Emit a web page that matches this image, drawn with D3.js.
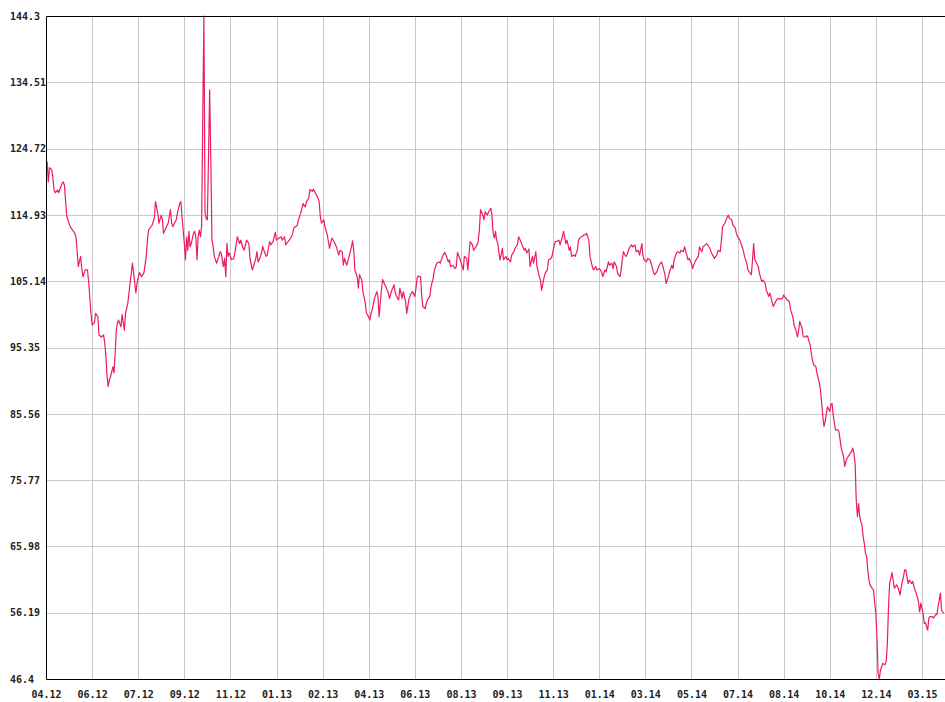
<!DOCTYPE html>
<html>
<head>
<meta charset="UTF-8">
<style>
  body { margin: 0; background: #fff; }
  .tick text { font-family: "DejaVu Sans Mono", monospace; font-size: 10px; font-weight: bold; fill: #222; }
  .grid line { stroke: #c8c8c8; stroke-width: 1; }
</style>
</head>
<body>
<script src="https://cdnjs.cloudflare.com/ajax/libs/d3/7.8.5/d3.min.js"></script>
<script>
// trading-session index (40 sessions per axis label) and price
var days = [1,2,3,5,6,7,8,10,11,14,15,16,18,21,23,25,26,27,28,30,31,32,34,36,37,39,40,42,43,45,46,48,50,51,52,53,54,55,56,58,59,60,61,62,63,65,66,68,69,71,72,73,75,76,78,79,81,83,85,87,88,89,92,94,95,97,98,100,101,102,104,106,108,109,110,113,114,116,117,118,120,121,122,123,124,125,126,128,129,130,131,132,133,134,135,136,137,138,139,140,141,142,143,144,145,146,148,150,151,152,154,155,156,157,158,159,161,163,165,166,168,169,171,172,174,176,177,179,180,182,183,184,185,187,188,189,191,192,194,195,197,199,200,202,204,205,207,208,210,211,213,214,215,218,219,221,223,225,226,228,229,231,232,234,236,237,238,239,241,242,244,245,246,248,250,252,254,255,257,258,259,261,263,265,266,267,268,270,271,272,274,275,277,278,279,281,282,283,285,287,288,289,291,292,294,295,297,298,300,302,303,305,306,307,309,310,312,313,315,317,318,320,321,322,323,325,326,327,329,330,331,333,334,336,337,339,341,342,344,346,347,349,350,351,353,355,356,357,359,360,362,363,365,366,367,368,370,371,373,374,375,376,377,379,380,381,383,384,386,387,388,389,390,391,392,393,394,396,397,399,400,401,403,404,406,407,409,410,412,413,415,416,417,419,420,422,423,425,426,428,429,430,432,433,435,436,438,439,441,442,443,445,446,448,449,451,452,454,455,456,458,459,461,462,464,465,467,468,469,471,472,474,475,477,478,480,481,482,483,485,486,488,489,491,492,493,495,496,498,499,500,501,503,504,506,508,509,511,512,514,515,517,518,519,521,522,524,525,527,528,530,531,532,534,535,537,538,540,541,543,544,545,547,548,550,551,553,554,556,557,558,560,561,563,564,566,567,569,570,572,573,574,576,577,579,580,582,583,585,586,587,589,590,592,593,595,596,598,599,600,602,603,605,606,608,609,611,612,613,614,615,616,618,619,621,622,624,625,627,628,630,631,633,634,635,637,639,640,642,643,645,646,648,649,651,652,653,654,656,657,659,660,661,663,664,665,666,668,669,671,672,673,674,675,676,677,678,680,681,682,683,684,685,687,688,689,690,692,693,694,695,697,699,700,701,702,703,704,705,706,707,708,709,710,711,712,713,714,715,716,718,719,720,721,722,723,724,725,726,728,729,730,731,732,733,734,735,736,738,739,740,741,742,744,745,746,748,749,751,752,754,755,757,758,759,761,762,763,765,766,767,769,770,772,773,774,776,777,778,779];
var prices = [122.8,119.8,121.9,121.6,120.4,118.6,118.2,118.6,118.2,119.6,119.8,119.3,114.7,113.2,112.7,112.2,111.7,109.7,107.3,108.8,107.1,105.8,106.8,106.8,105.1,100.4,98.7,99.0,100.4,99.9,97.2,96.9,97.2,96.0,94.0,91.0,89.6,90.6,91.0,92.5,91.6,94.5,97.9,99.0,99.4,98.4,100.2,97.9,100.4,101.9,103.4,104.9,107.8,106.4,103.4,104.9,106.4,105.8,106.4,108.8,111.2,112.7,113.4,114.5,116.9,115.2,113.7,114.9,114.2,112.2,113.0,113.7,115.7,113.7,113.2,114.2,115.2,116.6,116.9,114.7,110.7,108.3,111.7,109.7,112.5,110.2,110.7,112.2,112.5,111.7,108.3,111.7,112.7,111.7,113.2,129.4,144.3,115.2,114.4,114.2,123.5,133.4,123.0,111.2,110.2,108.8,107.8,108.8,109.5,109.3,107.3,108.5,105.8,110.7,108.8,109.3,108.3,108.5,110.5,111.7,110.7,111.2,110.0,109.7,111.2,110.7,108.5,106.8,107.3,108.5,109.5,108.0,108.3,109.3,110.3,109.7,108.8,109.0,111.0,110.5,111.0,112.4,111.2,111.5,111.7,111.2,111.7,110.5,111.0,111.2,111.7,112.2,113.0,113.4,114.2,115.2,116.6,116.1,116.9,117.4,118.7,118.4,118.7,118.1,117.4,116.9,114.7,113.7,114.2,113.2,112.0,111.0,110.0,111.5,111.0,110.2,109.0,109.7,109.5,107.5,108.5,107.5,108.8,110.2,111.1,109.7,106.8,105.8,104.1,106.1,105.3,103.6,101.9,100.4,100.2,99.4,100.4,100.9,102.6,103.6,102.9,99.9,103.8,105.4,104.6,104.3,103.4,102.6,103.8,104.6,103.4,102.6,102.4,104.1,102.6,103.6,102.1,100.4,102.6,103.4,103.6,102.9,104.1,105.6,105.9,105.8,102.9,101.4,101.1,101.9,102.4,102.9,104.3,105.6,106.8,107.8,108.0,107.8,108.8,109.4,109.0,108.0,108.3,107.3,107.5,107.0,107.3,109.4,108.5,108.0,106.8,108.8,108.5,106.8,109.0,111.0,110.5,109.7,110.2,110.5,111.0,112.7,115.7,114.9,114.2,115.4,114.9,115.4,115.9,114.7,112.2,111.5,112.5,111.2,110.7,109.3,108.3,110.0,108.3,108.8,108.3,108.5,108.0,109.0,109.5,110.0,110.5,111.7,111.0,110.5,109.7,110.0,109.3,109.9,107.3,108.8,107.8,109.5,107.3,105.8,105.3,103.8,105.6,106.3,106.8,108.3,108.5,108.8,110.5,111.0,111.0,111.2,110.5,111.7,112.5,110.7,111.2,109.7,110.2,108.8,109.0,108.8,109.7,111.2,111.7,111.7,112.0,112.0,112.2,111.2,108.8,107.3,106.8,107.3,106.8,107.0,106.8,106.5,105.8,106.8,106.5,108.0,107.5,107.8,107.0,108.0,107.3,106.3,105.8,106.8,108.3,109.5,108.8,109.0,110.0,110.5,110.2,110.5,109.5,109.7,109.0,110.7,108.8,108.3,108.0,108.5,108.3,107.8,106.5,106.1,106.5,107.0,107.5,108.0,107.5,106.1,104.8,105.8,106.5,107.5,107.0,108.3,109.3,109.5,109.3,109.7,109.5,110.2,109.0,108.3,108.5,107.8,107.0,108.0,108.3,108.8,110.2,109.5,110.2,110.5,110.7,110.5,110.0,109.5,108.8,108.5,109.0,109.7,109.5,111.2,113.2,113.7,114.2,114.9,114.4,114.2,113.4,113.0,112.2,111.7,111.2,110.7,109.7,108.8,107.8,106.8,106.3,106.1,108.3,110.7,108.3,108.0,107.3,106.3,105.1,105.3,104.8,103.8,102.9,103.4,102.1,101.4,102.1,102.4,102.6,102.5,102.6,103.1,102.6,102.4,102.1,100.9,99.9,98.7,97.7,96.9,97.9,99.2,98.2,96.9,96.9,97.1,96.9,95.7,94.5,93.5,92.8,92.5,91.5,90.1,89.1,87.1,85.1,83.7,84.4,85.6,86.6,85.9,86.9,87.1,85.4,84.2,83.2,83.2,82.9,81.7,80.5,79.2,77.8,78.5,79.0,79.5,80.0,80.5,79.7,78.3,72.8,70.4,72.3,70.4,69.6,69.1,67.4,66.4,65.0,64.5,62.5,61.0,60.3,60.0,59.5,57.6,56.1,52.4,47.2,46.4,47.7,48.2,48.7,48.5,49.0,51.7,57.1,60.5,61.3,62.1,61.0,59.8,60.3,60.0,59.5,58.8,60.0,61.5,62.5,62.5,60.5,61.0,60.5,60.8,59.5,59.1,57.8,56.3,57.6,56.1,54.6,54.7,53.6,55.4,55.6,55.6,55.4,55.9,55.9,57.1,59.1,56.6,56.3,56.1];

var xLabels = ['04.12','06.12','07.12','09.12','11.12','01.13','02.13','04.13','06.13','08.13',
               '09.13','11.13','01.14','03.14','05.14','07.14','08.14','10.14','12.14','03.15'];
var sessionsPerLabel = 40;
var yTicks = [144.3, 134.51, 124.72, 114.93, 105.14, 95.35, 85.56, 75.77, 65.98, 56.19, 46.4];

var width = 945, height = 702;
var plotLeft = 46, plotTop = 16, plotRight = 945, plotBottom = 679;

var svg = d3.select('body').append('svg')
    .attr('width', width).attr('height', height);

var x = d3.scaleLinear().domain([0, 780]).range([plotLeft, plotRight]);
var y = d3.scaleLinear().domain([46.4, 144.3]).range([plotBottom, plotTop]);

var xTicks = xLabels.map(function(d, i){ return i * sessionsPerLabel; });

// grid
svg.append('g').attr('class', 'grid')
    .selectAll('line').data(xTicks.slice(1)).enter().append('line')
    .attr('x1', function(d){ return Math.round(x(d)) + 0.5; })
    .attr('x2', function(d){ return Math.round(x(d)) + 0.5; })
    .attr('y1', plotTop).attr('y2', plotBottom);
svg.append('g').attr('class', 'grid')
    .selectAll('line').data(yTicks.slice(1, -1)).enter().append('line')
    .attr('x1', plotLeft).attr('x2', plotRight)
    .attr('y1', function(d){ return Math.round(y(d)) + 0.5; })
    .attr('y2', function(d){ return Math.round(y(d)) + 0.5; });

// price line
var line = d3.line()
    .x(function(d, i){ return x(days[i]); })
    .y(function(d){ return y(d); });
svg.append('path')
    .datum(prices)
    .attr('d', line)
    .attr('fill', 'none')
    .attr('stroke', '#ec1c5e')
    .attr('stroke-width', 1.2)
    .attr('stroke-linejoin', 'round');

// frame
svg.append('path')
    .attr('d', 'M' + plotRight + ',' + (plotTop + 0.5) + 'H' + (plotLeft + 0.5) + 'V' + (plotBottom + 0.5) + 'H' + plotRight)
    .attr('fill', 'none').attr('stroke', '#000').attr('stroke-width', 1);

// axes
var yAxis = svg.append('g')
    .attr('transform', 'translate(' + plotLeft + ',0)')
    .call(d3.axisLeft(y).tickValues(yTicks).tickSize(0).tickFormat(function(d){ return String(d); }));
yAxis.select('.domain').remove();
yAxis.selectAll('text').attr('x', 10 - plotLeft).attr('text-anchor', 'start');

var xAxis = svg.append('g')
    .attr('transform', 'translate(0,' + plotBottom + ')')
    .call(d3.axisBottom(x).tickValues(xTicks).tickSize(0).tickPadding(12)
        .tickFormat(function(d, i){ return xLabels[i]; }));
xAxis.select('.domain').remove();
</script>
</body>
</html>
